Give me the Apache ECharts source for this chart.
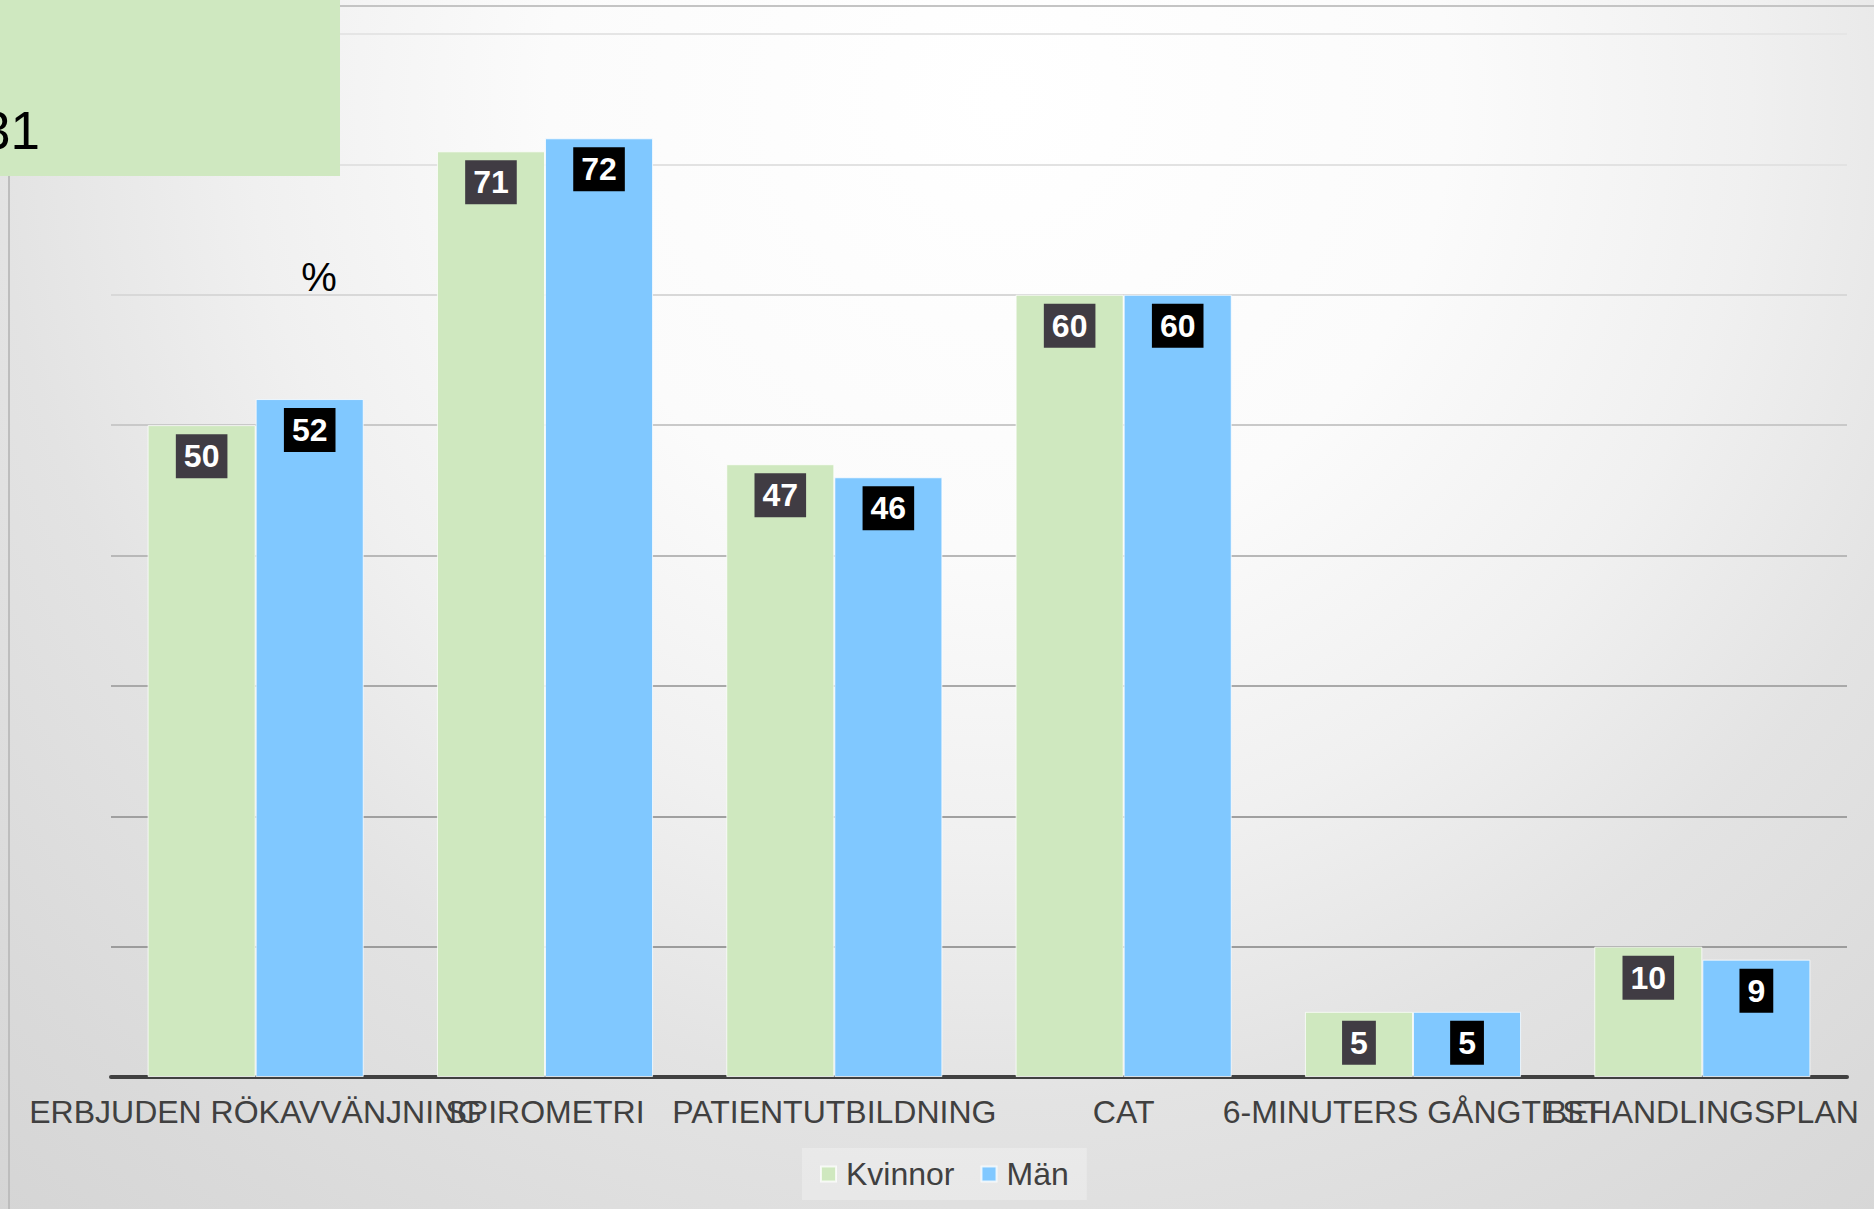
<!DOCTYPE html>
<html>
<head>
<meta charset="utf-8">
<script src="https://cdn.jsdelivr.net/npm/echarts@6/dist/echarts.min.js"></script>
<style>
  html, body { margin: 0; padding: 0; background: #e6e6e6; }
  #chart { width: 1874px; height: 1209px; }
</style>
</head>
<body>
<div id="chart"></div>
<script>
const categories = ['ERBJUDEN RÖKAVVÄNJNING', 'SPIROMETRI', 'PATIENTUTBILDNING', 'CAT', '6-MINUTERS GÅNGTEST', 'BEHANDLINGSPLAN'];
const kvinnor = [50, 71, 47, 60, 5, 10];
const man = [52, 72, 46, 60, 5, 9];
const seriesNames = ['Kvinnor', 'Män'];
const yMin = 0, yMax = 80, yStep = 10;
const unitLabel = '%';
const boxText = '31';

const FONT = '"Liberation Sans", Arial, sans-serif';
const chart = echarts.init(document.getElementById('chart'), null, { renderer: 'svg' });

const gridColors = ['#9a9a9a', '#9c9c9c', '#a0a0a0', '#a9a9a9', '#b8b8b8', '#c9c9c9', '#d8d8d8', '#e2e2e2', '#e5e5e5'];

function labelCfg(bg) {
  return {
    show: true,
    position: 'insideTop',
    distance: 9,
    color: '#ffffff',
    fontFamily: FONT,
    fontWeight: 'bold',
    fontSize: 32,
    lineHeight: 32,
    backgroundColor: bg,
    padding: [6, 8, 6, 8]
  };
}

const option = {
  animation: false,
  textStyle: { fontFamily: FONT },
  graphic: [
    {
      type: 'rect', z: -10, silent: true,
      shape: { x: 0, y: 0, width: 1874, height: 1209 },
      style: {
        fill: {
          type: 'radial', x: 1000, y: 100, r: 1500, global: true,
          colorStops: [
            { offset: 0, color: '#ffffff' },
            { offset: 0.3, color: '#fbfbfb' },
            { offset: 0.5, color: '#f0f0f0' },
            { offset: 0.67, color: '#e3e3e3' },
            { offset: 0.87, color: '#dadada' },
            { offset: 1, color: '#d5d5d5' }
          ]
        }
      }
    },
    { type: 'line', z: -5, silent: true, shape: { x1: 0, y1: 6, x2: 1874, y2: 6 }, style: { stroke: '#c4c4c4', lineWidth: 2 } },
    { type: 'line', z: -5, silent: true, shape: { x1: 9, y1: 0, x2: 9, y2: 1209 }, style: { stroke: '#bdbdbd', lineWidth: 2 } },
    {
      type: 'rect', z: 100, silent: true,
      shape: { x: 0, y: 0, width: 340, height: 176 },
      style: { fill: '#cfe8c0' }
    },
    {
      type: 'text', z: 101, silent: true,
      style: { text: boxText, x: -19, y: 130, fill: '#000000', font: '53px ' + FONT, textAlign: 'left', textVerticalAlign: 'middle' }
    },
    {
      type: 'text', z: 101, silent: true,
      style: { text: unitLabel, x: 319, y: 277, fill: '#000000', font: '40px ' + FONT, textAlign: 'center', textVerticalAlign: 'middle' }
    }
  ],
  grid: { left: 111, right: 27, top: 34, bottom: 132, containLabel: false },
  legend: {
    data: seriesNames,
    left: 802,
    top: 1148,
    padding: [10, 18],
    backgroundColor: 'rgba(255,255,255,0.28)',
    itemWidth: 15,
    itemHeight: 15,
    itemGap: 26,
    icon: 'rect',
    textStyle: { fontFamily: FONT, fontSize: 32, color: '#404040', padding: [0, 0, 0, 5] }
  },
  xAxis: {
    type: 'category',
    data: categories,
    axisLine: { show: true, lineStyle: { color: '#404040', width: 4 } },
    axisTick: { show: false },
    axisLabel: { interval: 0, margin: 19, fontFamily: FONT, fontSize: 32, color: '#404040' },
    splitLine: { show: false }
  },
  yAxis: {
    type: 'value',
    min: yMin, max: yMax, interval: yStep,
    axisLine: { show: false },
    axisTick: { show: false },
    axisLabel: { show: false },
    splitLine: { show: true, lineStyle: { color: gridColors, width: 2 } }
  },
  series: [
    {
      name: seriesNames[0], type: 'bar', data: kvinnor,
      barGap: '0%', barCategoryGap: '25.3%',
      itemStyle: { color: '#cfe8bf', borderColor: 'rgba(255,255,255,0.75)', borderWidth: 1 },
      label: labelCfg('#403c43')
    },
    {
      name: seriesNames[1], type: 'bar', data: man,
      barGap: '0%', barCategoryGap: '25.3%',
      itemStyle: { color: '#80c8ff', borderColor: 'rgba(255,255,255,0.75)', borderWidth: 1 },
      label: labelCfg('#000000')
    }
  ]
};
chart.setOption(option);
</script>
</body>
</html>
